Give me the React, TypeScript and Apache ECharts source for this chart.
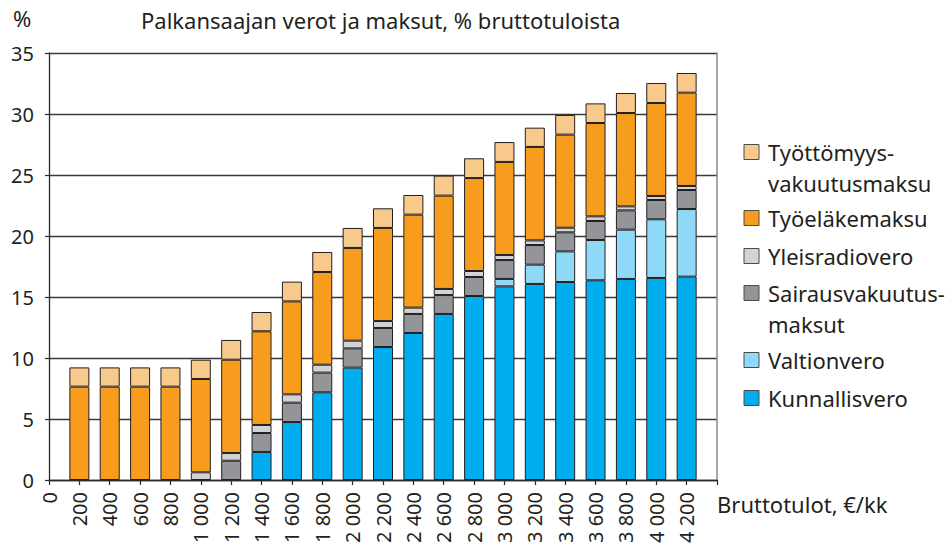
import React, { useEffect, useRef } from "react";
import * as echarts from "echarts";

const incomes = ["0", "200", "400", "600", "800", "1000", "1200", "1400", "1600", "1800", "2000", "2200", "2400", "2600", "2800", "3000", "3200", "3400", "3600", "3800", "4000", "4200", "4400"];

// values for 200 ... 4200 (the "0" and "4400" slots stay empty)
const kunnallisvero = [0, 0, 0, 0, 0, 0, 2.30, 4.75, 7.19, 9.21, 10.90, 12.05, 13.61, 15.08, 15.87, 16.07, 16.23, 16.37, 16.48, 16.56, 16.67];
const valtionvero = [0, 0, 0, 0, 0, 0, 0, 0, 0, 0, 0, 0, 0, 0, 0.61, 1.58, 2.51, 3.30, 4.04, 4.81, 5.54];
const sairausvakuutusmaksut = [0, 0, 0, 0, 0, 1.58, 1.55, 1.59, 1.61, 1.58, 1.56, 1.56, 1.55, 1.56, 1.55, 1.61, 1.56, 1.56, 1.58, 1.58, 1.56];
const yleisradiovero = [0, 0, 0, 0, 0.63, 0.63, 0.66, 0.68, 0.65, 0.63, 0.57, 0.52, 0.50, 0.49, 0.41, 0.38, 0.38, 0.38, 0.33, 0.33, 0.33];
const tyoelakemaksu = [7.65, 7.65, 7.65, 7.65, 7.65, 7.65, 7.68, 7.62, 7.60, 7.60, 7.63, 7.62, 7.65, 7.62, 7.63, 7.66, 7.63, 7.65, 7.65, 7.62, 7.65];
const tyottomyysvakuutusmaksu = [1.58, 1.58, 1.58, 1.58, 1.58, 1.62, 1.58, 1.62, 1.64, 1.64, 1.61, 1.61, 1.64, 1.62, 1.63, 1.58, 1.61, 1.61, 1.64, 1.64, 1.61];

const seriesNames = ["Kunnallisvero", "Valtionvero", "Sairausvakuutusmaksut", "Yleisradiovero", "Työeläkemaksu", "Työttömyysvakuutusmaksu"];
const legendLabels = ["Kunnallisvero", "Valtionvero", "Sairausvakuutus-\nmaksut", "Yleisradiovero", "Työeläkemaksu", "Työttömyys-\nvakuutusmaksu"];
const seriesValues = [kunnallisvero, valtionvero, sairausvakuutusmaksut, yleisradiovero, tyoelakemaksu, tyottomyysvakuutusmaksu];
const colors = ["#00ADEE", "#8ED8F8", "#939598", "#D1D3D4", "#F79C1C", "#F7C98A"];

const title = "Palkansaajan verot ja maksut, % bruttotuloista";
const xName = "Bruttotulot, €/kk";
const yUnit = "%";

const FONT = "Noto Sans";
const TEXT = "#231F20";

function fmtIncome(s: string): string {
  const v = Number(s);
  if (v > 4200) return "";
  if (v >= 1000) return `${Math.floor(v / 1000)} ${String(v % 1000).padStart(3, "0")}`;
  return String(v);
}

export default function App() {
  const ref = useRef<HTMLDivElement>(null);
  useEffect(() => {
    if (!ref.current) return;
    const chart = echarts.init(ref.current, undefined, { renderer: "svg" });

    const legendCenters = [398, 360, 293, 256, 218, 152];
    const legendGraphics: any[] = [];
    for (let i = seriesNames.length - 1; i >= 0; i--) {
      const cy = legendCenters[i];
      legendGraphics.push({
        type: "rect",
        shape: { x: 744, y: cy - 7.5, width: 15, height: 15 },
        style: { fill: colors[i], stroke: "#4a4a4a", lineWidth: 1 },
      });
      legendGraphics.push({
        type: "text",
        x: 768,
        y: cy - 15.5,
        style: {
          text: legendLabels[i],
          fontFamily: FONT,
          fontSize: 22,
          fill: TEXT,
          lineHeight: 31,
          verticalAlign: "top",
          align: "left",
        },
      });
    }

    const padded = (arr: number[]) => [null, ...arr.map((v) => (v === 0 ? null : v)), null];

    chart.setOption({
      animation: false,
      backgroundColor: "#ffffff",
      textStyle: { fontFamily: FONT, color: TEXT },
      title: {
        text: title,
        left: 136,
        top: 4,
        textStyle: { fontFamily: FONT, fontSize: 22, fontWeight: "normal", color: TEXT },
      },
      grid: { left: 49, right: 232, top: 53, bottom: 69 },
      xAxis: {
        type: "category",
        data: incomes,
        boundaryGap: false,
        name: xName,
        nameLocation: "end",
        nameGap: 0,
        nameTextStyle: { fontFamily: FONT, fontSize: 22, color: TEXT, align: "left", verticalAlign: "top", lineHeight: 30, padding: [9, 0, 0, 0] },
        axisLine: { show: true, onZero: false, lineStyle: { color: "#2a2a2a", width: 1.3 } },
        axisTick: { show: true, inside: false, length: 5, interval: 0, lineStyle: { color: "#2a2a2a", width: 1.2 } },
        axisLabel: {
          rotate: 90,
          margin: 12,
          interval: 0,
          fontFamily: FONT,
          fontSize: 20,
          color: TEXT,
          formatter: (v: string) => fmtIncome(v),
        },
        splitLine: { show: false },
      },
      yAxis: [
        {
          type: "value",
          min: 0,
          max: 35,
          interval: 5,
          axisLine: { show: true, lineStyle: { color: "#2a2a2a", width: 1.3 } },
          axisTick: { show: true, inside: false, length: 4, lineStyle: { color: "#2a2a2a", width: 1.2 } },
          axisLabel: { margin: 15, fontFamily: FONT, fontSize: 20, color: TEXT },
          splitLine: { show: true, lineStyle: { color: "#3a3a3a", width: 1.3 } },
        },
        {
          type: "value",
          min: 0,
          max: 35,
          interval: 5,
          position: "right",
          axisLine: { show: true, lineStyle: { color: "#8a8a8a", width: 1.5 } },
          axisTick: { show: false },
          axisLabel: { show: false },
          splitLine: { show: false },
        },
      ],
      series: seriesNames.map((name, si) => ({
        name,
        type: "bar",
        stack: "total",
        barWidth: 20,
        yAxisIndex: 0,
        itemStyle: { color: colors[si], borderColor: "#231F20", borderWidth: 1 },
        data: padded(seriesValues[si]),
      })),
      graphic: [
        {
          type: "text",
          x: 13,
          y: 7,
          style: { text: yUnit, fontFamily: FONT, fontSize: 22, fill: TEXT },
        },
        ...legendGraphics,
      ],
    });
    return () => chart.dispose();
  }, []);
  return (
    <div
      ref={ref}
      style={{ position: "fixed", left: 0, top: 0, width: 949, height: 549 }}
    />
  );
}
